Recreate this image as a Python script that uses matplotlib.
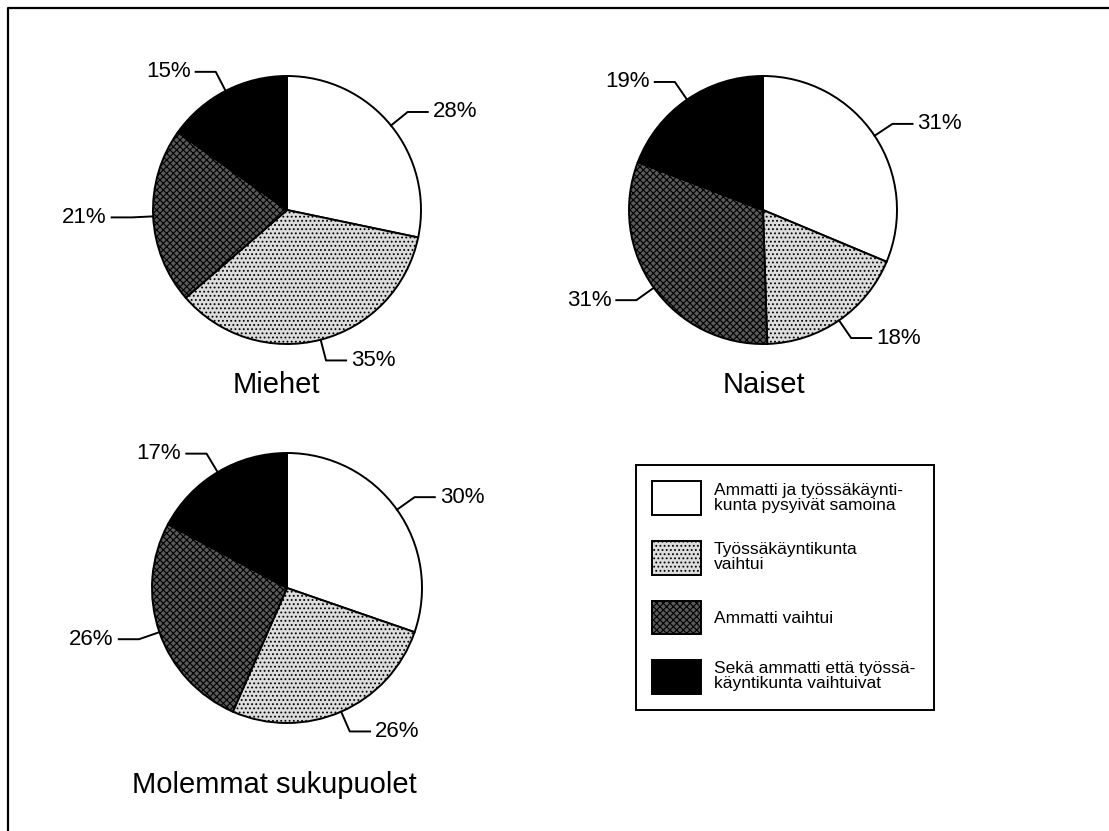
import numpy as np
import matplotlib.pyplot as plt

plt.rcParams['font.family'] = ['Liberation Sans', 'DejaVu Sans']
plt.rcParams['hatch.linewidth'] = 0.8

# data
categories = ['Ammatti ja työssäkäynti-\nkunta pysyivät samoina',
              'Työssäkäyntikunta\nvaihtui',
              'Ammatti vaihtui',
              'Sekä ammatti että työssä-\nkäyntikunta vaihtuivat']
groups = ['Miehet', 'Naiset', 'Molemmat sukupuolet']
miehet = [28, 35, 21, 15]
naiset = [31, 18, 31, 19]
molemmat = [30, 26, 26, 17]

fills = ['white', '#dcdcdc', '#5a5a5a', 'black']
hatches = [None, '....', 'xxxxx', None]

W, H = 1109, 831
fig = plt.figure(figsize=(W / 100, H / 100), dpi=100)
ax = fig.add_axes([0, 0, 1, 1])

# pixel layout: pie centre x, y, radius, title x, title baseline
layout = [(287, 210, 134, 276, 393),
          (763, 210, 134, 764, 393),
          (287, 588, 135, 274, 793)]

handles = None
for vals, name, (cx, cy, r, tx, ty) in zip([miehet, naiset, molemmat], groups, layout):
    wedges, _ = ax.pie(vals, colors=fills, startangle=90, counterclock=False,
                       center=(cx, H - cy), radius=r,
                       wedgeprops=dict(edgecolor='black', linewidth=1.4))
    for w, h in zip(wedges, hatches):
        if h:
            w.set_hatch(h)
    if handles is None:
        handles = wedges
    # leader lines and percent labels
    for w, v in zip(wedges, vals):
        th = np.deg2rad((w.theta1 + w.theta2) / 2)
        x0, y0 = cx + r * np.cos(th), H - cy + r * np.sin(th)
        x1, y1 = cx + 1.16 * r * np.cos(th), H - cy + 1.16 * r * np.sin(th)
        side = 1 if np.cos(th) >= 0 else -1
        x2 = x1 + side * 0.15 * r
        ax.plot([x0, x1, x2], [y0, y1, y1], color='black', lw=1.4,
                solid_joinstyle='round')
        ax.text(x2 + side * 5, y1, f'{v}%', fontsize=16,
                ha='left' if side > 0 else 'right', va='center')
    ax.text(tx, H - ty, name, fontsize=21, ha='center', va='baseline')

# outer frame (only top and left edges visible in the scan)
ax.plot([8, 8, W], [0, H - 8, H - 8], color='black', lw=1.6)

ax.set_xlim(0, W)
ax.set_ylim(0, H)
ax.set_aspect('equal')
ax.axis('off')

leg = ax.legend(handles, categories, loc='upper left',
                bbox_to_anchor=(636 / W, 1 - 724 / H, 298 / W, 259 / H),
                bbox_transform=fig.transFigure, mode='expand', borderaxespad=0,
                fontsize=12.5, handlelength=2.77, handleheight=2.6,
                handletextpad=0.75, borderpad=0.95, labelspacing=1.5,
                fancybox=False, framealpha=1, edgecolor='black')
leg.get_frame().set_linewidth(1.4)
for t in leg.get_texts():
    t.set_linespacing(1.0)

fig.savefig('out.png', dpi=100)
